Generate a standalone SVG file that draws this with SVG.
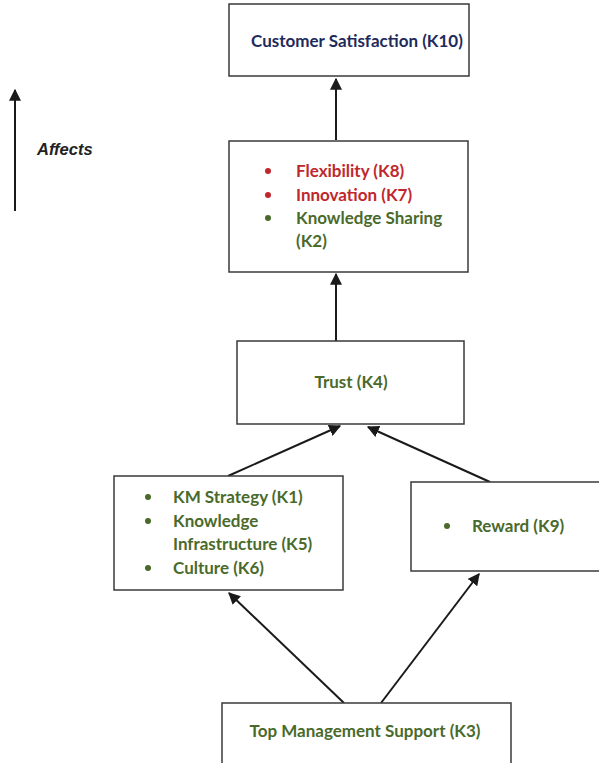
<svg xmlns="http://www.w3.org/2000/svg" width="599" height="763" viewBox="0 0 599 763">
  <style>
    .box { fill: #ffffff; stroke: #3a3a3a; stroke-width: 1.5; }
    .lbl { font-family: Lato, "Liberation Sans", sans-serif; font-weight: bold; font-size: 17px; }
    .navy { fill: #1f2a5c; }
    .red { fill: #c0272d; }
    .green { fill: #4a6a2b; }
    .conn { stroke: #1a1a1a; stroke-width: 2; fill: none; marker-end: url(#arrow); }
  </style>
  <defs>
    <marker id="arrow" viewBox="0 0 10 10" refX="9" refY="5" markerWidth="6" markerHeight="6" markerUnits="strokeWidth" orient="auto">
      <path d="M0,0 L10,5 L0,10 z" fill="#1a1a1a"/>
    </marker>
  </defs>
  <rect width="599" height="763" fill="#ffffff"/>

  <!-- legend -->
  <g id="legend">
    <line x1="15" y1="211" x2="15" y2="90" class="conn"/>
    <text x="37" y="155" font-family="'Liberation Sans', Arial, sans-serif" font-weight="bold" font-style="italic" font-size="16.5" fill="#222222">Affects</text>
  </g>

  <!-- connectors -->
  <g id="connectors">
    <line x1="336" y1="140" x2="336" y2="79" class="conn"/>
    <line x1="336" y1="341" x2="336" y2="274" class="conn"/>
    <line x1="228" y1="476" x2="340" y2="426" class="conn"/>
    <line x1="490" y1="482" x2="368" y2="427" class="conn"/>
    <line x1="344" y1="703" x2="229" y2="593" class="conn"/>
    <line x1="381" y1="703" x2="479" y2="574" class="conn"/>
  </g>

  <g id="k10">
    <rect class="box" x="229" y="4" width="240" height="72"/>
    <text class="lbl navy" x="357" y="47" text-anchor="middle">Customer Satisfaction (K10)</text>
  </g>

  <g id="outcomes">
    <rect class="box" x="229" y="141" width="239" height="131"/>
    <circle cx="268" cy="171" r="3" class="red"/>
    <text class="lbl red" x="296" y="177">Flexibility (K8)</text>
    <circle cx="268" cy="195" r="3" class="red"/>
    <text class="lbl red" x="296" y="201">Innovation (K7)</text>
    <circle cx="268" cy="218" r="3" class="green"/>
    <text class="lbl green" x="296" y="224">Knowledge Sharing</text>
    <text class="lbl green" x="296" y="247">(K2)</text>
  </g>

  <g id="k4">
    <rect class="box" x="237" y="341" width="227" height="83"/>
    <text class="lbl green" x="351" y="388" text-anchor="middle">Trust (K4)</text>
  </g>

  <g id="enablers">
    <rect class="box" x="114" y="476" width="229" height="114"/>
    <circle cx="148" cy="497" r="3" class="green"/>
    <text class="lbl green" x="173" y="503">KM Strategy (K1)</text>
    <circle cx="148" cy="521" r="3" class="green"/>
    <text class="lbl green" x="173" y="527">Knowledge</text>
    <text class="lbl green" x="173" y="550">Infrastructure (K5)</text>
    <circle cx="148" cy="568" r="3" class="green"/>
    <text class="lbl green" x="173" y="574">Culture (K6)</text>
  </g>

  <g id="k9">
    <rect class="box" x="411" y="482" width="200" height="89"/>
    <circle cx="447" cy="526" r="3" class="green"/>
    <text class="lbl green" x="472" y="532">Reward (K9)</text>
  </g>

  <g id="k3">
    <rect class="box" x="222" y="703" width="289" height="70"/>
    <text class="lbl green" x="365" y="737" text-anchor="middle">Top Management Support (K3)</text>
  </g>
</svg>
